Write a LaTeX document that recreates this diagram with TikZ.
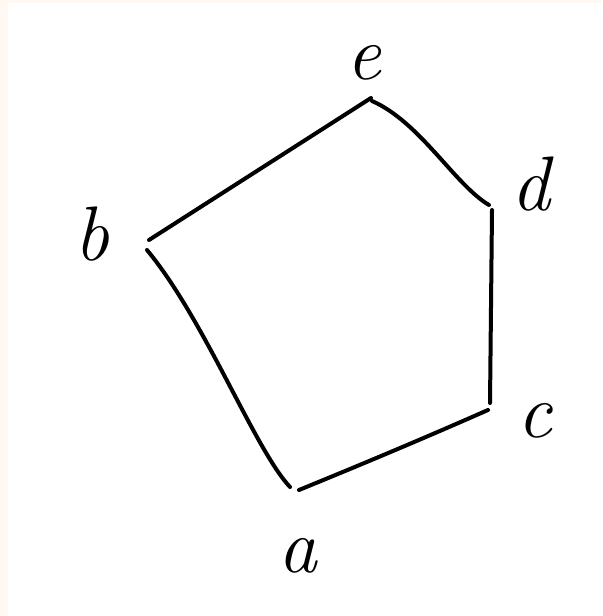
\documentclass[tikz,border=0pt]{standalone}
\usepackage{tikz}
\definecolor{paper}{HTML}{FFF8F3}
\tikzset{edge/.style={line width=3pt,line cap=round},
  lab/.style={anchor=base,font=\fontsize{58}{62}\selectfont\itshape}}
\begin{document}
\begin{tikzpicture}[x=0.75pt,y=-0.75pt]
\fill[paper] (0,0) rectangle (602,616);\fill[white] (8,3) rectangle (602,616);
\useasboundingbox (0,0) rectangle (602,616);
\node[lab] (e) at (364,80){e};\node[lab] (d) at (531,211){d};\node[lab] (b) at (92,260){b};
\node[lab] (c) at (535,437){c};\node[lab] (a) at (298,572){a};
\coordinate (eb) at (149,240);\coordinate (be) at (371,98);\coordinate (ed) at (372,101);\coordinate (de) at (489,205);
\coordinate (dc) at (492,210);\coordinate (cd) at (490,403);\coordinate (ca) at (488,410);\coordinate (ac) at (299,490);
\coordinate (ab) at (290,487);\coordinate (ba) at (147,250);
\draw[edge] (eb)--(be);\draw[edge] (ed) .. controls (420,122) and (455,185) .. (de);
\draw[edge] (dc)--(cd);\draw[edge] (ca) .. controls (420,440) and (360,465) .. (ac);
\draw[edge] (ab) .. controls (255,450) and (205,320) .. (ba);
\end{tikzpicture}
\end{document}
